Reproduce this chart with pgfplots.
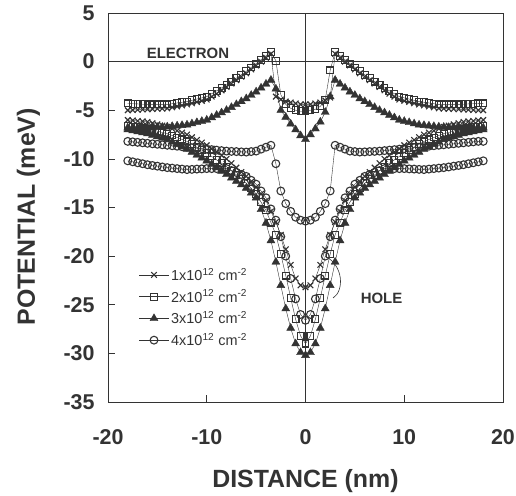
\documentclass[border=0pt]{standalone}
\usepackage{fontspec}
\setmainfont{Liberation Sans}
\usepackage{pgfplots}
\pgfplotsset{compat=1.18}
\usepackage{pgfplotstable}

% Potential profiles (meV) versus distance (nm) for four sheet densities:
% e1..e4 electron potential, h1..h4 hole potential.
\pgfplotstableread{
x      e1     e2     e3     e4      h1      h2      h3      h4
-18.0  -5.00  -4.30  -6.80  -8.20   -6.00   -6.60   -7.00  -10.20
-17.5  -4.98  -4.33  -6.80  -8.25   -6.05   -6.68   -7.10  -10.30
-17.0  -4.95  -4.35  -6.80  -8.30   -6.10   -6.75   -7.20  -10.40
-16.5  -4.92  -4.38  -6.80  -8.35   -6.15   -6.83   -7.30  -10.50
-16.0  -4.90  -4.40  -6.80  -8.40   -6.20   -6.90   -7.40  -10.60
-15.5  -4.88  -4.40  -6.78  -8.45   -6.33   -7.03   -7.55  -10.68
-15.0  -4.85  -4.40  -6.75  -8.50   -6.45   -7.15   -7.70  -10.75
-14.5  -4.83  -4.40  -6.73  -8.55   -6.58   -7.28   -7.85  -10.83
-14.0  -4.80  -4.40  -6.70  -8.60   -6.70   -7.40   -8.00  -10.90
-13.5  -4.70  -4.33  -6.65  -8.65   -6.90   -7.60   -8.25  -10.95
-13.0  -4.60  -4.25  -6.60  -8.70   -7.10   -7.80   -8.50  -11.00
-12.5  -4.50  -4.18  -6.55  -8.75   -7.30   -8.00   -8.75  -11.05
-12.0  -4.40  -4.10  -6.50  -8.80   -7.50   -8.20   -9.00  -11.10
-11.5  -4.28  -3.98  -6.38  -8.85   -7.78   -8.50   -9.30  -11.08
-11.0  -4.15  -3.85  -6.25  -8.90   -8.05   -8.80   -9.60  -11.05
-10.5  -4.03  -3.73  -6.13  -8.95   -8.33   -9.10   -9.90  -11.03
-10.0  -3.90  -3.60  -6.00  -9.00   -8.60   -9.40  -10.20  -11.00
 -9.5  -3.60  -3.30  -5.75  -9.05   -8.95   -9.75  -10.55  -11.00
 -9.0  -3.30  -3.00  -5.50  -9.10   -9.30  -10.10  -10.90  -11.00
 -8.5  -2.95  -2.70  -5.25  -9.15   -9.65  -10.45  -11.25  -11.00
 -8.0  -2.60  -2.40  -5.00  -9.20  -10.00  -10.80  -11.60  -11.00
 -7.5  -2.25  -2.05  -4.70  -9.23  -10.45  -11.23  -11.95  -11.20
 -7.0  -1.90  -1.70  -4.40  -9.25  -10.90  -11.65  -12.30  -11.40
 -6.5  -1.55  -1.35  -4.10  -9.28  -11.35  -12.08  -12.65  -11.60
 -6.0  -1.20  -1.00  -3.80  -9.30  -11.80  -12.50  -13.00  -11.80
 -5.5  -0.80  -0.60  -3.45  -9.25  -12.35  -13.05  -13.50  -12.20
 -5.0  -0.40  -0.20  -3.10  -9.20  -12.90  -13.60  -14.00  -12.60
 -4.5   0.00   0.20  -2.70  -9.00  -13.60  -14.45  -15.20  -13.30
 -4.0   0.40   0.60  -2.30  -8.80  -14.30  -15.30  -16.60  -14.00
 -3.5   0.80   1.00  -1.90  -8.60  -15.40  -16.55  -18.40  -15.15
 -3.0  -3.60   0.10  -2.80 -10.50  -16.50  -17.80  -20.60  -16.30
 -2.5  -3.90  -3.40  -5.00 -13.30  -17.80  -19.80  -23.00  -18.00
 -2.0  -4.10  -4.40  -5.70 -14.60  -19.30  -22.00  -25.40  -20.00
 -1.5  -4.20  -4.80  -6.40 -15.40  -20.90  -24.30  -27.40  -22.30
 -1.0  -4.30  -5.00  -7.00 -16.00  -22.30  -26.50  -29.00  -24.40
 -0.5  -4.40  -5.10  -7.60 -16.30  -23.00  -28.20  -29.90  -26.00
  0.0  -4.40  -5.10  -8.00 -16.40  -23.20  -29.00  -30.20  -26.60
  0.5  -4.40  -5.00  -7.50 -16.30  -23.00  -28.20  -29.90  -26.00
  1.0  -4.30  -4.90  -6.90 -16.00  -22.30  -26.50  -29.00  -24.40
  1.5  -4.20  -4.60  -6.20 -15.40  -20.90  -24.30  -27.40  -22.30
  2.0  -4.00  -3.90  -5.20 -14.60  -19.30  -22.00  -25.40  -20.00
  2.5  -3.70  -0.90  -3.60 -13.30  -17.80  -19.80  -23.00  -18.00
  3.0   0.80   1.00  -1.90  -8.60  -16.50  -17.80  -20.60  -16.30
  3.5   0.40   0.60  -2.30  -8.80  -15.40  -16.55  -18.40  -15.15
  4.0   0.00   0.20  -2.70  -9.00  -14.30  -15.30  -16.60  -14.00
  4.5  -0.40  -0.20  -3.10  -9.20  -13.60  -14.45  -15.20  -13.30
  5.0  -0.80  -0.60  -3.45  -9.25  -12.90  -13.60  -14.00  -12.60
  5.5  -1.20  -1.00  -3.80  -9.30  -12.35  -13.05  -13.50  -12.20
  6.0  -1.55  -1.35  -4.10  -9.28  -11.80  -12.50  -13.00  -11.80
  6.5  -1.90  -1.70  -4.40  -9.25  -11.35  -12.08  -12.65  -11.60
  7.0  -2.25  -2.05  -4.70  -9.23  -10.90  -11.65  -12.30  -11.40
  7.5  -2.60  -2.40  -5.00  -9.20  -10.45  -11.23  -11.95  -11.20
  8.0  -2.95  -2.70  -5.25  -9.15  -10.00  -10.80  -11.60  -11.00
  8.5  -3.30  -3.00  -5.50  -9.10   -9.65  -10.45  -11.25  -11.00
  9.0  -3.60  -3.30  -5.75  -9.05   -9.30  -10.10  -10.90  -11.00
  9.5  -3.90  -3.60  -6.00  -9.00   -8.95   -9.75  -10.55  -11.00
 10.0  -4.03  -3.73  -6.13  -8.95   -8.60   -9.40  -10.20  -11.00
 10.5  -4.15  -3.85  -6.25  -8.90   -8.33   -9.10   -9.90  -11.03
 11.0  -4.28  -3.98  -6.38  -8.85   -8.05   -8.80   -9.60  -11.05
 11.5  -4.40  -4.10  -6.50  -8.80   -7.78   -8.50   -9.30  -11.08
 12.0  -4.50  -4.18  -6.55  -8.75   -7.50   -8.20   -9.00  -11.10
 12.5  -4.60  -4.25  -6.60  -8.70   -7.30   -8.00   -8.75  -11.05
 13.0  -4.70  -4.33  -6.65  -8.65   -7.10   -7.80   -8.50  -11.00
 13.5  -4.80  -4.40  -6.70  -8.60   -6.90   -7.60   -8.25  -10.95
 14.0  -4.83  -4.40  -6.73  -8.55   -6.70   -7.40   -8.00  -10.90
 14.5  -4.85  -4.40  -6.75  -8.50   -6.58   -7.28   -7.85  -10.83
 15.0  -4.88  -4.40  -6.78  -8.45   -6.45   -7.15   -7.70  -10.75
 15.5  -4.90  -4.40  -6.80  -8.40   -6.33   -7.03   -7.55  -10.68
 16.0  -4.92  -4.38  -6.80  -8.35   -6.20   -6.90   -7.40  -10.60
 16.5  -4.95  -4.35  -6.80  -8.30   -6.15   -6.83   -7.30  -10.50
 17.0  -4.98  -4.33  -6.80  -8.25   -6.10   -6.75   -7.20  -10.40
 17.5  -5.00  -4.30  -6.80  -8.20   -6.05   -6.68   -7.10  -10.30
 18.0  -5.00  -4.30  -6.80  -8.20   -6.00   -6.60   -7.00  -10.20
}\potential

\definecolor{ink}{gray}{0.2}

\pgfplotsset{
  dens1/.style={ink, line width=0.4bp, mark=x, mark size=4bp,
    mark options={line width=1.1bp}},
  dens2/.style={ink, line width=0.4bp, mark=square, mark size=3.4bp,
    mark options={line width=1.1bp}},
  dens3/.style={ink, line width=0.4bp, mark=triangle*, mark size=4.6bp,
    mark options={fill=ink}},
  dens4/.style={ink, line width=0.4bp, mark=o, mark size=3.9bp,
    mark options={line width=1.1bp}},
}

\begin{document}
\begin{tikzpicture}
\useasboundingbox (0,0) rectangle (516bp,496bp);
\begin{axis}[
  at={(108bp,94bp)}, anchor=south west,
  width=395bp, height=389bp, scale only axis,
  xmin=-20, xmax=20, ymin=-35, ymax=5,
  xtick={-20,-10,...,20}, ytick={-35,-30,...,5},
  tick align=inside, xtick pos=bottom, ytick pos=left,
  major tick length=7bp,
  tick style={ink, line width=0.7bp},
  axis line style={ink, line width=0.8bp},
  /pgf/number format/assume math mode=true,
  tick label style={font=\fontsize{21.5}{24}\selectfont\bfseries, text=ink},
  xticklabel style={yshift=-24bp},
  yticklabel style={xshift=-10bp},
  xlabel={DISTANCE (nm)}, ylabel={POTENTIAL (meV)},
  label style={font=\fontsize{25}{28}\selectfont\bfseries, text=ink},
  xlabel style={at={(axis description cs:0.5,-0.221)}, anchor=base},
  ylabel style={at={(axis description cs:-0.185,0.476)}, anchor=base},
  legend style={at={(axis cs:-16.9,-21.0)}, anchor=north west, draw=none,
    fill=none, font=\fontsize{14.5}{16}\selectfont, text=ink,
    row sep=4bp, inner sep=0pt},
  legend cell align=left,
  legend image code/.code={%
    \draw[mark repeat=2,mark phase=2,#1]
      plot coordinates {(0bp,0bp) (15bp,0bp) (30bp,0bp)};},
  clip=false,
]
% reference lines through the origin
\draw[ink, line width=0.7bp] (axis cs:0,-35) -- (axis cs:0,5);
\draw[ink, line width=0.7bp] (axis cs:-20,0) -- (axis cs:20,0);

% electron potentials, one per sheet density
\addplot[dens1] table[x=x,y=e1]{\potential};
\addlegendentry{1x10\textsuperscript{12} cm\textsuperscript{-2}}
\addplot[dens2] table[x=x,y=e2]{\potential};
\addlegendentry{2x10\textsuperscript{12} cm\textsuperscript{-2}}
\addplot[dens3] table[x=x,y=e3]{\potential};
\addlegendentry{3x10\textsuperscript{12} cm\textsuperscript{-2}}
\addplot[dens4] table[x=x,y=e4]{\potential};
\addlegendentry{4x10\textsuperscript{12} cm\textsuperscript{-2}}

% hole potentials
\addplot[dens1, forget plot] table[x=x,y=h1]{\potential};
\addplot[dens2, forget plot] table[x=x,y=h2]{\potential};
\addplot[dens3, forget plot] table[x=x,y=h3]{\potential};
\addplot[dens4, forget plot] table[x=x,y=h4]{\potential};

\node[font=\fontsize{15}{17}\selectfont\bfseries, text=ink]
  at (axis cs:-11.9,0.9) {ELECTRON};
\node[font=\fontsize{15}{17}\selectfont\bfseries, text=ink]
  at (axis cs:7.7,-24.3) {HOLE};
\draw[ink, line width=0.6bp] (axis cs:2.0,-20.0)
  .. controls (axis cs:3.9,-21.0) and (axis cs:3.9,-23.6) .. (axis cs:2.8,-24.3);
\end{axis}
\end{tikzpicture}
\end{document}
